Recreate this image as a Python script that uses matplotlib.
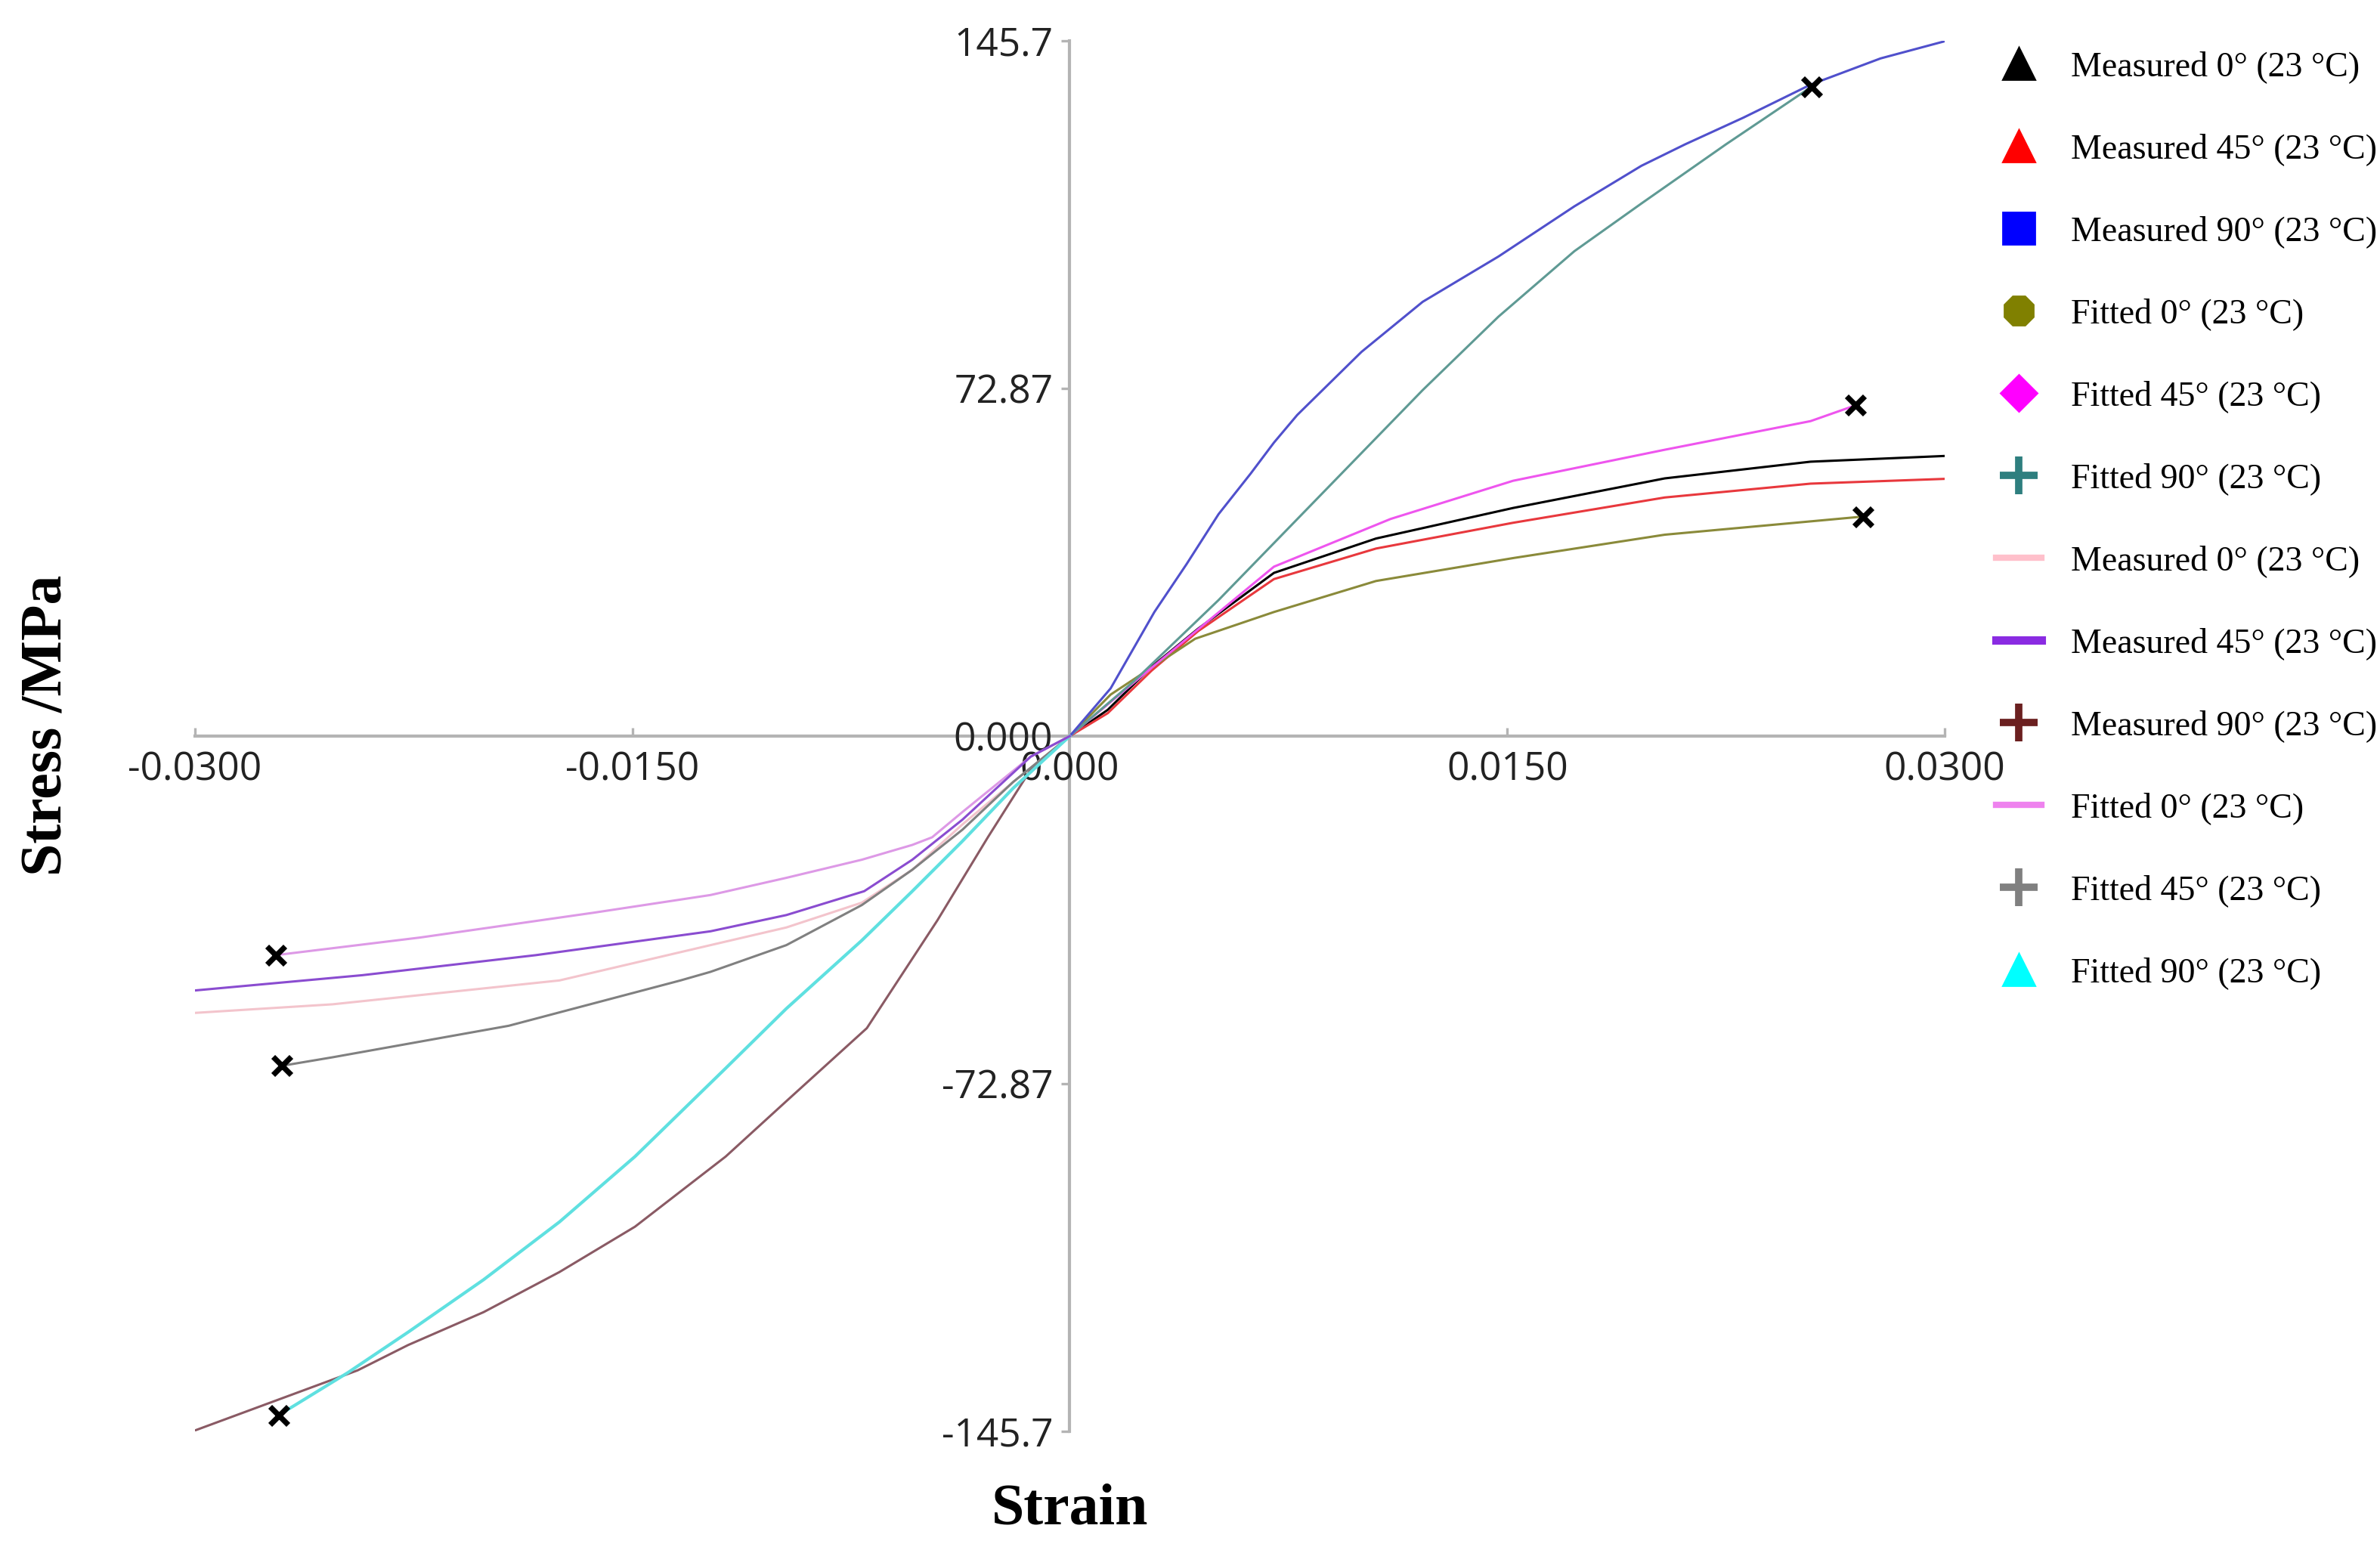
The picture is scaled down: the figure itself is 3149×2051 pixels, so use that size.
import matplotlib.pyplot as plt
from matplotlib.lines import Line2D

# Positive strain branch (tension)
m0_x = [0, 0.0013, 0.0028, 0.0044, 0.0070, 0.0105, 0.0152, 0.0204, 0.0254, 0.0300]
m0_y = [0, 5.5, 14.5, 22.5, 34.2, 41.4, 47.8, 54.0, 57.5, 58.7]
m45_x = [0, 0.0013, 0.0028, 0.0044, 0.0070, 0.0105, 0.0152, 0.0204, 0.0254, 0.0300]
m45_y = [0, 4.8, 13.7, 22.0, 32.9, 39.3, 44.7, 50.0, 52.9, 53.9]
m90_x = [0, 0.0014, 0.0029, 0.0040, 0.0051, 0.0062, 0.0070, 0.0078, 0.0100, 0.0121,
         0.0147, 0.0173, 0.0196, 0.0211, 0.0231, 0.0254, 0.0278, 0.0300]
m90_y = [0, 10.0, 26.0, 36.0, 46.5, 55.0, 61.5, 67.3, 80.5, 91.0,
         100.5, 111.0, 119.5, 124.0, 129.6, 136.5, 142.0, 145.6]
f0_x = [0, 0.0014, 0.0043, 0.0070, 0.0105, 0.0152, 0.0204, 0.0272]
f0_y = [0, 8.7, 20.4, 26.0, 32.5, 37.3, 42.2, 46.0]
f45_x = [0, 0.0028, 0.0070, 0.0110, 0.0152, 0.0204, 0.0254, 0.02694]
f45_y = [0, 14.3, 35.5, 45.5, 53.5, 60.0, 66.0, 69.3]
f90_x = [0, 0.0022, 0.0051, 0.0086, 0.0121, 0.0147, 0.0173, 0.0196, 0.0225, 0.02544]
f90_y = [0, 11.5, 28.5, 50.5, 72.5, 87.9, 101.6, 111.6, 124.0, 136.1]

# Negative strain branch (compression)
nm0_x = [0, -0.00194, -0.00368, -0.0054, -0.00713, -0.00972, -0.01232, -0.0175, -0.02528, -0.0300]
nm0_y = [0, -9.6, -18.5, -28.0, -34.9, -40.1, -43.8, -51.2, -56.2, -58.0]
nm45_x = [0, -0.00134, -0.00368, -0.0054, -0.00705, -0.00972, -0.01232, -0.01831, -0.02426, -0.0300]
nm45_y = [0, -4.3, -17.5, -25.9, -32.5, -37.5, -40.9, -45.9, -50.1, -53.3]
nm90_x = [0, -0.00134, -0.00281, -0.00454, -0.00696, -0.00972, -0.0118, -0.01491, -0.0175,
          -0.0201, -0.02269, -0.02442, -0.0300]
nm90_y = [0, -7.0, -21.2, -38.6, -61.2, -76.5, -88.1, -102.8, -112.3,
          -120.7, -127.6, -132.9, -145.5]
nf0_x = [0, -0.00134, -0.00368, -0.00472, -0.0054, -0.00713, -0.00972, -0.01232, -0.01632, -0.02227, -0.02723]
nf0_y = [0, -4.3, -15.9, -21.2, -22.8, -25.9, -29.7, -33.3, -37.0, -42.2, -45.9]
nf45_x = [0, -0.00194, -0.00368, -0.0054, -0.00713, -0.00972, -0.01232, -0.01335, -0.01924, -0.02528, -0.02703]
nf45_y = [0, -9.6, -19.6, -28.0, -35.4, -43.8, -49.4, -51.2, -60.7, -67.3, -69.1]
nf90_x = [0, -0.00194, -0.00368, -0.0054, -0.00713, -0.00972, -0.0118, -0.01491, -0.0175,
          -0.0201, -0.02269, -0.02476, -0.02713]
nf90_y = [0, -10.9, -22.0, -32.5, -42.8, -57.1, -69.6, -88.1, -101.8,
          -113.9, -124.9, -133.4, -142.3]

xticks = [-0.03, -0.015, 0.0, 0.015, 0.03]
xlabels = ["-0.0300", "-0.0150", "0.000", "0.0150", "0.0300"]
yticks = [-145.7, -72.87, 0.0, 72.87, 145.7]
ylabels = ["-145.7", "-72.87", "0.000", "72.87", "145.7"]

legend_labels = [
    "Measured 0° (23 °C)", "Measured 45° (23 °C)", "Measured 90° (23 °C)",
    "Fitted 0° (23 °C)", "Fitted 45° (23 °C)", "Fitted 90° (23 °C)",
    "Measured 0° (23 °C)", "Measured 45° (23 °C)", "Measured 90° (23 °C)",
    "Fitted 0° (23 °C)", "Fitted 45° (23 °C)", "Fitted 90° (23 °C)",
]

fig = plt.figure(figsize=(15.745, 10.255), dpi=200)
ax = fig.add_axes([0.0819, 0.0765, 0.8171 - 0.0819, 0.9737 - 0.0765])

lw = 1.1
ax.plot(m0_x, m0_y, color="black", lw=lw)
ax.plot(m45_x, m45_y, color="#e8383d", lw=lw)
ax.plot(f0_x, f0_y, color="#8a8a3a", lw=lw)
ax.plot(f45_x, f45_y, color="#ee55ee", lw=lw)
ax.plot(f90_x, f90_y, color="#5f9a94", lw=lw)
ax.plot(m90_x, m90_y, color="#5050cc", lw=lw)

ax.plot(nm0_x, nm0_y, color="#f3c4cc", lw=lw)
ax.plot(nm90_x, nm90_y, color="#8a5a64", lw=lw)
ax.plot(nf45_x, nf45_y, color="#808080", lw=lw)
ax.plot(nf90_x, nf90_y, color="#5fe0e0", lw=1.5)
ax.plot(nf0_x, nf0_y, color="#dd99e6", lw=lw)
ax.plot(nm45_x, nm45_y, color="#8a4cd0", lw=lw)

# failure points at the end of the fitted curves
ends_x = [f90_x[-1], f45_x[-1], f0_x[-1], nf0_x[-1], nf45_x[-1], nf90_x[-1]]
ends_y = [f90_y[-1], f45_y[-1], f0_y[-1], nf0_y[-1], nf45_y[-1], nf90_y[-1]]
ax.plot(ends_x, ends_y, "x", color="black", ms=8.5, mew=2.6, zorder=5)

ax.set_xlim(-0.03, 0.03)
ax.set_ylim(-145.7, 145.7)
for s in ["top", "right"]:
    ax.spines[s].set_visible(False)
ax.spines["left"].set_position("zero")
ax.spines["bottom"].set_position("zero")
for s in ["left", "bottom"]:
    ax.spines[s].set_color("#b4b4b4")
    ax.spines[s].set_linewidth(1.5)
    ax.spines[s].set_zorder(0)

ax.set_xticks(xticks)
ax.set_xticklabels(xlabels, fontfamily="Open Sans", fontsize=18.5, color="#222222")
ax.set_yticks(yticks)
ax.set_yticklabels(ylabels, fontfamily="Open Sans", fontsize=18.5, color="#222222")
ax.tick_params(axis="x", direction="in", length=4, width=1.2, color="#b4b4b4", pad=7)
ax.tick_params(axis="y", direction="out", length=4, width=1.2, color="#b4b4b4", pad=4)

fig.text(0.4495, 0.026, "Strain", ha="center", va="center",
         fontfamily="Liberation Serif", fontweight="bold", fontsize=28)
fig.text(0.020, 0.532, "Stress /MPa", ha="center", va="center", rotation=90,
         fontfamily="Liberation Serif", fontweight="bold", fontsize=28)

handles = [
    Line2D([], [], ls="none", marker="^", color="black", ms=15),
    Line2D([], [], ls="none", marker="^", color="#ff0000", ms=15),
    Line2D([], [], ls="none", marker="s", color="#0000ff", ms=15),
    Line2D([], [], ls="none", marker="8", color="#808000", ms=15),
    Line2D([], [], ls="none", marker="D", color="#ff00ff", ms=12),
    Line2D([], [], ls="none", marker="+", color="#2e7f7f", ms=18, mew=3.5),
    Line2D([], [], ls="-", color="#ffc0cb", lw=3),
    Line2D([], [], ls="-", color="#8a2be2", lw=4),
    Line2D([], [], ls="none", marker="+", color="#6b2020", ms=18, mew=3.5),
    Line2D([], [], ls="-", color="#ee82ee", lw=3),
    Line2D([], [], ls="none", marker="+", color="#808080", ms=18, mew=3.5),
    Line2D([], [], ls="none", marker="^", color="#00ffff", ms=15),
]
fig.legend(handles, legend_labels, loc="upper left", bbox_to_anchor=(0.833, 0.976),
           frameon=False, prop={"family": "Liberation Serif", "size": 16.5},
           labelspacing=1.44, handlelength=1.3, handletextpad=0.85, borderaxespad=0)

fig.savefig("out.png", dpi=200)
